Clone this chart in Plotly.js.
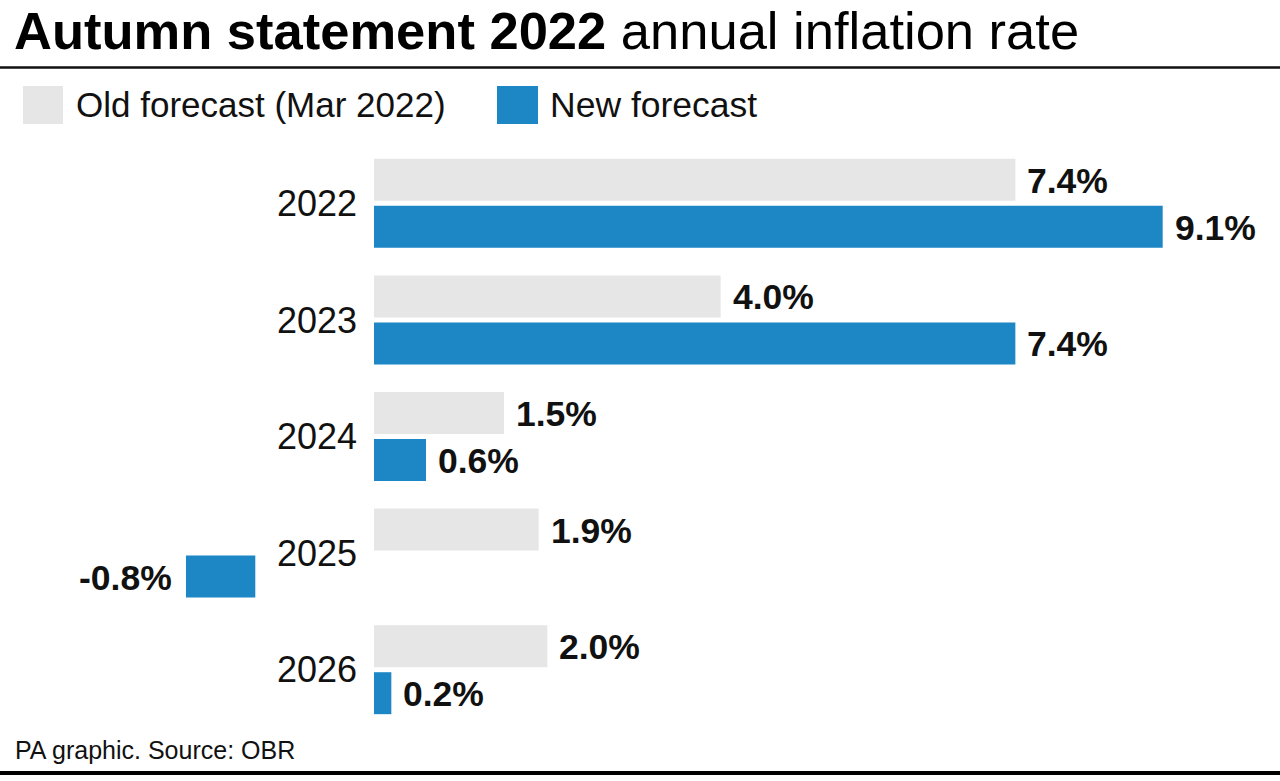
<!DOCTYPE html>
<html>
<head>
<meta charset="utf-8">
<script src="https://cdn.plot.ly/plotly-3.0.1.min.js"></script>
<style>
  html, body { margin: 0; padding: 0; background: #fff; }
  #chart { width: 1280px; height: 781px; }
</style>
</head>
<body>
<div id="chart"></div>
<script>
// ---- data ----
var years = ['2022', '2023', '2024', '2025', '2026'];
var oldForecast = [7.4, 4.0, 1.5, 1.9, 2.0];
var newForecast = [9.1, 7.4, 0.6, -0.8, 0.2];
var seriesNames = ['Old forecast (Mar 2022)', 'New forecast'];
var titleBold = 'Autumn statement 2022';
var titleRest = ' annual inflation rate';
var sourceText = 'PA graphic. Source: OBR';

// ---- style ----
var W = 1280, H = 781;
var M = {l: 0, r: 0, t: 145, b: 53};
var plotH = H - M.t - M.b;
function py(p) { return (H - M.b - p) / plotH; }
function px(p) { return p / W; }
var GREY = '#e6e6e6', BLUE = '#1d87c6', INK = '#111111';
var FONT = 'Liberation Sans, Arial, sans-serif';
var VAL_SIZE = 35.5;
var pxPerUnit = 86.67;
var zeroMain = 374, zeroNeg = 255.3;
var BW = 0.36, GAP = 0.043;
var offOld = -(2 * BW + GAP) / 2, offNew = offOld + BW + GAP;
var shiftPx = (BW / 2 + GAP / 2) * plotH / 5;

var posNew = newForecast.map(function (v) { return v >= 0 ? v : null; });
var negNew = newForecast.map(function (v) { return v < 0 ? v : null; });

var traces = [
  {type: 'bar', orientation: 'h', name: seriesNames[0], y: years, x: oldForecast,
   marker: {color: GREY}, width: BW, offset: offOld, xaxis: 'x', yaxis: 'y', hoverinfo: 'x+y'},
  {type: 'bar', orientation: 'h', name: seriesNames[1], y: years, x: posNew,
   marker: {color: BLUE}, width: BW, offset: offNew, xaxis: 'x', yaxis: 'y', hoverinfo: 'x+y'},
  {type: 'bar', orientation: 'h', name: seriesNames[1], y: years, x: negNew,
   marker: {color: BLUE}, width: BW, offset: offNew, xaxis: 'x2', yaxis: 'y', hoverinfo: 'x+y', showlegend: false}
];

var annotations = [];
years.forEach(function (yr, i) {
  // category axes take the category index for annotation positions
  annotations.push({xref: 'x', yref: 'y', x: oldForecast[i], y: i, text: oldForecast[i].toFixed(1) + '%',
    showarrow: false, xanchor: 'left', yanchor: 'middle', xshift: 10, yshift: shiftPx - 1,
    font: {family: FONT, size: VAL_SIZE, color: INK, weight: 'bold'}});
  var v = newForecast[i];
  annotations.push({xref: v < 0 ? 'x2' : 'x', yref: 'y', x: v, y: i, text: v.toFixed(1) + '%',
    showarrow: false, xanchor: v < 0 ? 'right' : 'left', yanchor: 'middle', xshift: v < 0 ? -12 : 10, yshift: -shiftPx - 1,
    font: {family: FONT, size: VAL_SIZE, color: INK, weight: 'bold'}});
});
// legend labels
annotations.push({xref: 'paper', yref: 'paper', x: px(74), y: py(105), text: seriesNames[0], showarrow: false,
  xanchor: 'left', yanchor: 'middle', font: {family: FONT, size: 35, color: INK}});
annotations.push({xref: 'paper', yref: 'paper', x: px(548), y: py(105), text: seriesNames[1], showarrow: false,
  xanchor: 'left', yanchor: 'middle', font: {family: FONT, size: 35.5, color: INK}});
// source
annotations.push({xref: 'paper', yref: 'paper', x: px(13), y: py(750), text: sourceText, showarrow: false,
  xanchor: 'left', yanchor: 'middle', font: {family: FONT, size: 25, color: INK}});

var shapes = [
  {type: 'line', xref: 'paper', yref: 'paper', x0: 0, x1: 1, y0: py(67.5), y1: py(67.5), line: {color: '#111', width: 2.5}},
  {type: 'line', xref: 'paper', yref: 'paper', x0: 0, x1: 1, y0: py(773), y1: py(773), line: {color: '#000', width: 4}},
  {type: 'rect', xref: 'paper', yref: 'paper', x0: px(23), x1: px(63), y0: py(124), y1: py(86), fillcolor: GREY, line: {width: 0}},
  {type: 'rect', xref: 'paper', yref: 'paper', x0: px(497), x1: px(538), y0: py(124), y1: py(86), fillcolor: BLUE, line: {width: 0}}
];

var layout = {
  width: W, height: H, margin: M,
  paper_bgcolor: '#fff', plot_bgcolor: '#fff',
  font: {family: FONT, color: INK},
  showlegend: false,
  barmode: 'overlay',
  title: {text: '<b>' + titleBold + '</b>' + titleRest, x: px(14), xanchor: 'left', xref: 'paper',
    y: 1 - 31 / H, yref: 'container', yanchor: 'middle', font: {family: FONT, size: 52.5, color: '#000'}},
  xaxis: {visible: false, range: [-zeroMain / pxPerUnit, (W - zeroMain) / pxPerUnit], fixedrange: true},
  xaxis2: {visible: false, overlaying: 'x', range: [-zeroNeg / pxPerUnit, (W - zeroNeg) / pxPerUnit], fixedrange: true},
  yaxis: {type: 'category', range: [4.5, -0.5], anchor: 'free', position: zeroMain / W,
    showgrid: false, zeroline: false, showline: false, ticks: '', ticklabelstandoff: 17,
    tickfont: {family: FONT, size: 36, color: INK}, fixedrange: true},
  annotations: annotations,
  shapes: shapes
};

Plotly.newPlot('chart', traces, layout, {displayModeBar: false, staticPlot: true});
</script>
</body>
</html>
